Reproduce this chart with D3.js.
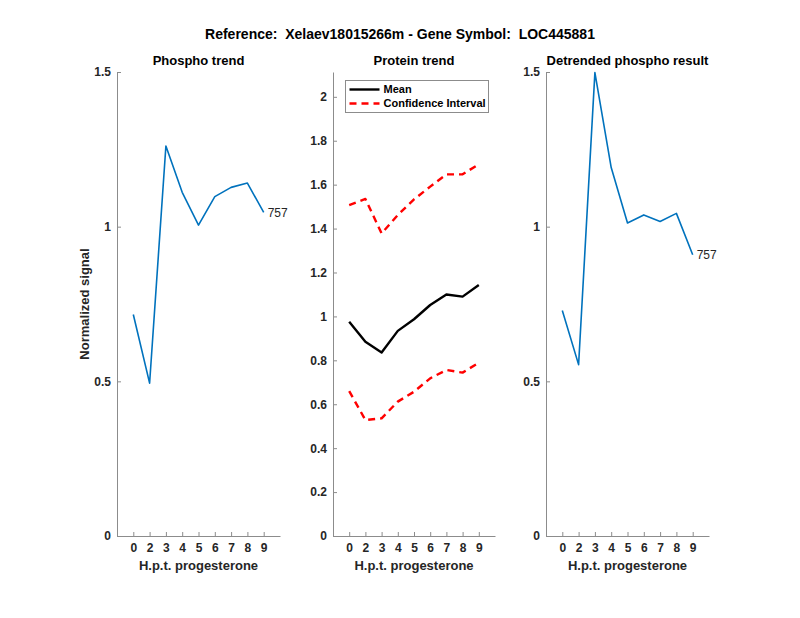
<!DOCTYPE html>
<meta charset="utf-8">
<script src="https://d3js.org/d3.v7.min.js"></script>
<style>
  body { margin: 0; background: #fff; }
  text { font-family: "Liberation Sans", Arial, Helvetica, sans-serif; white-space: pre; }
</style>
<div id="chart"></div>
<script>

// data
var hours = ["0", "2", "3", "4", "5", "6", "7", "8", "9"];
var phospho = [0.716, 0.494, 1.261, 1.111, 1.005, 1.097, 1.127, 1.141, 1.046];
var proteinMean = [0.976, 0.885, 0.836, 0.934, 0.987, 1.052, 1.100, 1.090, 1.143];
var ciUpper = [1.507, 1.535, 1.378, 1.462, 1.533, 1.591, 1.647, 1.647, 1.693];
var ciLower = [0.660, 0.528, 0.536, 0.612, 0.657, 0.718, 0.756, 0.744, 0.789];
var detrended = [0.729, 0.554, 1.498, 1.191, 1.012, 1.038, 1.017, 1.043, 0.909];
var peptide = "757";
var phosphoTicks = [0, 0.5, 1, 1.5];
var proteinTicks = [0, 0.2, 0.4, 0.6, 0.8, 1, 1.2, 1.4, 1.6, 1.8, 2];

var width = 800, height = 618;
var axisTop = 72, axisBottom = 536;

var svg = d3.select("#chart")
  .append("svg")
    .attr("width", width)
    .attr("height", height);

// main title
svg.append("text")
    .attr("x", 400)
    .attr("y", 39)
    .attr("text-anchor", "middle")
    .style("font-size", "14px")
    .style("font-weight", "bold")
    .style("fill", "#000")
    .text("Reference:  Xelaev18015266m - Gene Symbol:  LOC445881");

// one panel = one subplot
function panel(left, right, yMax, yTicks, title) {
  var x = d3.scaleLinear().domain([0, 10]).range([left, right]);
  var y = d3.scaleLinear().domain([0, yMax]).range([axisBottom, axisTop]);

  var gx = svg.append("g")
      .attr("transform", "translate(0," + axisBottom + ")")
      .call(d3.axisBottom(x)
        .tickValues(d3.range(1, 10))
        .tickFormat(function(d) { return hours[d - 1]; })
        .tickSize(-4)
        .tickSizeOuter(0)
        .tickPadding(7));

  var gy = svg.append("g")
      .attr("transform", "translate(" + left + ",0)")
      .call(d3.axisLeft(y)
        .tickValues(yTicks)
        .tickFormat(d3.format("~g"))
        .tickSize(-4)
        .tickSizeOuter(0)
        .tickPadding(6));

  [gx, gy].forEach(function(g) {
    g.select(".domain").attr("stroke", "#8c8c8c");
    g.selectAll(".tick line").attr("stroke", "#8c8c8c");
    g.selectAll(".tick text")
        .style("font-size", "12px")
        .style("font-weight", "bold")
        .style("fill", "#262626");
  });

  svg.append("text")
      .attr("x", (left + right) / 2)
      .attr("y", 65)
      .attr("text-anchor", "middle")
      .style("font-size", "13px")
      .style("font-weight", "bold")
      .text(title);

  svg.append("text")
      .attr("x", (left + right) / 2)
      .attr("y", 570)
      .attr("text-anchor", "middle")
      .style("font-size", "13px")
      .style("font-weight", "bold")
      .style("fill", "#262626")
      .text("H.p.t. progesterone");

  return {x: x, y: y};
}

function drawLine(p, values, color, w, dash) {
  var line = d3.line()
      .x(function(d, i) { return p.x(i + 1); })
      .y(function(d) { return p.y(d); });
  svg.append("path")
      .datum(values)
      .attr("fill", "none")
      .attr("stroke", color)
      .attr("stroke-width", w)
      .attr("stroke-dasharray", dash || null)
      .attr("stroke-linejoin", "round")
      .attr("d", line);
}

function peptideLabel(p, values) {
  svg.append("text")
      .attr("x", p.x(9) + 4)
      .attr("y", p.y(values[values.length - 1]))
      .attr("dy", "0.35em")
      .style("font-size", "12px")
      .style("fill", "#262626")
      .text(peptide);
}

// left: phospho trend
var p1 = panel(117, 280, 1.5, phosphoTicks, "Phospho trend");
drawLine(p1, phospho, "#0072BD", 1.6);
peptideLabel(p1, phospho);

svg.append("text")
    .attr("transform", "translate(89," + (axisTop + axisBottom) / 2 + ") rotate(-90)")
    .attr("text-anchor", "middle")
    .style("font-size", "13px")
    .style("font-weight", "bold")
    .style("fill", "#262626")
    .text("Normalized signal");

// middle: protein trend
var p2 = panel(333, 495, 2.113, proteinTicks, "Protein trend");
drawLine(p2, ciUpper, "#ff0000", 2.4, "7,5");
drawLine(p2, ciLower, "#ff0000", 2.4, "7,5");
drawLine(p2, proteinMean, "#000", 2.4);

// legend
var legend = svg.append("g").attr("transform", "translate(345.5,80.5)");
legend.append("rect")
    .attr("width", 143)
    .attr("height", 32)
    .attr("fill", "#fff")
    .attr("stroke", "#8c8c8c");
var items = [
  {label: "Mean", color: "#000", dash: null},
  {label: "Confidence Interval", color: "#ff0000", dash: "7,5"}
];
items.forEach(function(d, i) {
  var yy = 9 + i * 14;
  legend.append("line")
      .attr("x1", 4).attr("x2", 34)
      .attr("y1", yy).attr("y2", yy)
      .attr("stroke", d.color)
      .attr("stroke-width", 2.4)
      .attr("stroke-dasharray", d.dash);
  legend.append("text")
      .attr("x", 38)
      .attr("y", yy)
      .attr("dy", "0.35em")
      .style("font-size", "11px")
      .style("font-weight", "bold")
      .text(d.label);
});

// right: detrended result
var p3 = panel(546, 709, 1.5, phosphoTicks, "Detrended phospho result");
drawLine(p3, detrended, "#0072BD", 1.6);
peptideLabel(p3, detrended);

</script>
